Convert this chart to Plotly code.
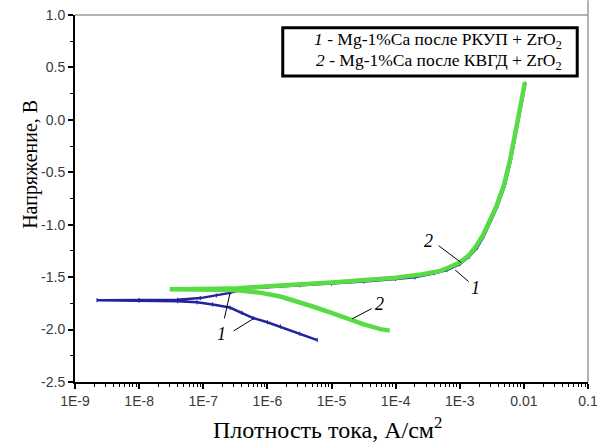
import plotly.graph_objects as go

# Curve 1: Mg-1%Ca после РКУП + ZrO2 (blue)
i1 = [6.0e-6, 3.2e-6, 1.6e-6, 1.0e-6, 6.0e-7, 4.0e-7, 2.6e-7, 1.4e-7, 8.0e-8, 4.0e-8, 1.0e-8, 2.2e-9,
      1.0e-8, 4.0e-8, 9.0e-8, 1.6e-7, 2.6e-7, 4.8e-7, 1.0e-6, 3.2e-6, 1.0e-5, 3.2e-5, 1.0e-4, 2.0e-4,
      4.0e-4, 6.3e-4, 1.0e-3, 1.4e-3, 1.86e-3, 2.35e-3, 3.0e-3, 3.8e-3, 5.0e-3, 6.2e-3, 7.8e-3, 9.3e-3, 1.05e-2]
e1 = [-2.10, -2.04, -1.97, -1.93, -1.89, -1.84, -1.79, -1.76, -1.74, -1.73, -1.725, -1.72,
      -1.718, -1.715, -1.70, -1.675, -1.65, -1.607, -1.595, -1.577, -1.562, -1.542, -1.517, -1.502,
      -1.462, -1.432, -1.377, -1.305, -1.22, -1.115, -0.975, -0.835, -0.635, -0.395, -0.075, 0.185, 0.345]

# Curve 2: Mg-1%Ca после КВГД + ZrO2 (green)
i2 = [8.1e-5, 5.8e-5, 3.2e-5, 1.95e-5, 1.0e-5, 5.1e-6, 2.8e-6, 1.6e-6, 8.0e-7, 3.4e-7, 1.6e-7, 6.3e-8, 3.0e-8,
      6.3e-8, 1.6e-7, 3.4e-7, 5.0e-7, 1.6e-6, 1.0e-5, 3.2e-5, 1.0e-4, 2.5e-4, 5.0e-4, 6.3e-4,
      1.0e-3, 1.4e-3, 1.8e-3, 2.3e-3, 2.95e-3, 3.75e-3, 4.9e-3, 6.1e-3, 7.7e-3, 9.2e-3, 1.04e-2]
e2 = [-2.01, -1.996, -1.95, -1.90, -1.84, -1.78, -1.73, -1.685, -1.65, -1.625, -1.62, -1.617, -1.615,
      -1.612, -1.61, -1.605, -1.60, -1.58, -1.55, -1.53, -1.505, -1.475, -1.44, -1.415,
      -1.36, -1.29, -1.205, -1.10, -0.96, -0.82, -0.62, -0.38, -0.06, 0.20, 0.36]

x_tickvals = [1e-9, 1e-8, 1e-7, 1e-6, 1e-5, 1e-4, 1e-3, 1e-2, 1e-1]
x_ticktext = ["1E-9", "1E-8", "1E-7", "1E-6", "1E-5", "1E-4", "1E-3", "0.01", "0.1"]
y_tickvals = [1.0, 0.5, 0.0, -0.5, -1.0, -1.5, -2.0, -2.5]
y_ticktext = ["1.0", "0.5", "0.0", "-0.5", "-1.0", "-1.5", "-2.0", "-2.5"]

x_minor = [k * d for d in [1e-9, 1e-8, 1e-7, 1e-6, 1e-5, 1e-4, 1e-3, 1e-2] for k in range(2, 10)]

fig = go.Figure()
fig.add_trace(go.Scatter(x=i1, y=e1, mode="lines+markers", line=dict(color="#23239c", width=2.5),
                         marker=dict(symbol="line-ns", size=3, line=dict(width=1, color="#23239c")),
                         showlegend=False))
fig.add_trace(go.Scatter(x=i2, y=e2, mode="lines", line=dict(color="#58dc45", width=4.5),
                         showlegend=False))

tickfont = dict(family="Liberation Sans", size=14, color="#3a3a3a")
fig.update_xaxes(type="log", range=[-9, -1], tickvals=x_tickvals, ticktext=x_ticktext, automargin=False,
                 ticklabeloverflow="allow",
                 showline=True, linecolor="black", linewidth=2, ticks="outside", ticklen=5,
                 tickwidth=1.5, tickcolor="black", showgrid=False, zeroline=False, tickfont=tickfont,
                 minor=dict(tickvals=x_minor, ticks="outside", ticklen=3, tickcolor="black", tickwidth=1))
fig.update_yaxes(range=[-2.5, 1.0], tickvals=y_tickvals, ticktext=y_ticktext, automargin=False,
                 showline=True, linecolor="black", linewidth=2, ticks="outside", ticklen=5,
                 tickwidth=1.5, tickcolor="black", showgrid=False, zeroline=False, tickfont=tickfont,
                 minor=dict(dtick=0.25, ticks="outside", ticklen=3, tickcolor="black", tickwidth=1))

serif = "Liberation Serif"
shapes = [
    dict(type="line", xref="paper", yref="paper", x0=0, x1=1, y0=1, y1=1,
         line=dict(color="#9a9a9a", width=1.5)),
    dict(type="line", xref="paper", yref="paper", x0=1, x1=1, y0=0, y1=1.04,
         line=dict(color="#9a9a9a", width=1.5)),
    dict(type="rect", xref="paper", yref="paper", x0=0.405, x1=0.979, y0=0.834, y1=0.965,
         line=dict(color="black", width=3), fillcolor="white"),
]

anns = [
    dict(text="<i>1</i> - Mg-1%Ca после РКУП + ZrO<sub>2</sub>", xref="paper", yref="paper",
         x=0.953, y=0.93, xanchor="right", yanchor="middle", showarrow=False,
         font=dict(family=serif, size=17.5, color="black")),
    dict(text="<i>2</i> - Mg-1%Ca после КВГД + ZrO<sub>2</sub>", xref="paper", yref="paper",
         x=0.953, y=0.873, xanchor="right", yanchor="middle", showarrow=False,
         font=dict(family=serif, size=17.5, color="black")),
    dict(text="Напряжение, В", xref="paper", yref="paper", x=-0.088, y=0.594, textangle=-90,
         showarrow=False, xanchor="center", yanchor="middle",
         font=dict(family=serif, size=20, color="black")),
    dict(text="Плотность тока, А/см<sup>2</sup>", xref="paper", yref="paper", x=0.493, y=-0.125,
         showarrow=False, xanchor="center", yanchor="middle",
         font=dict(family=serif, size=24, color="black")),
]

lab_font = dict(family=serif, size=18, color="black")
for txt, lx, ly in [("<i>2</i>", -3.48, -1.155), ("<i>1</i>", -2.762, -1.603),
                    ("<i>2</i>", -4.244, -1.756), ("<i>1</i>", -6.708, -2.042)]:
    anns.append(dict(text=txt, x=lx, y=ly, xref="x", yref="y", showarrow=False, font=lab_font))

leaders = [(-2.978, -1.361, -24, -18), (-3.072, -1.431, 15, 13), (-4.679, -1.898, 21, -11),
           (-6.582, -1.650, -6, 27), (-6.223, -1.898, -21, 13)]
for tx, ty, ax, ay in leaders:
    anns.append(dict(text="", x=tx, y=ty, xref="x", yref="y", ax=ax, ay=ay, showarrow=True,
                     arrowhead=0, arrowwidth=1, arrowcolor="black"))

fig.update_layout(width=597, height=447, margin=dict(l=75, r=9, t=15, b=65),
                  plot_bgcolor="white", paper_bgcolor="white", shapes=shapes, annotations=anns)
fig.write_html("out.html", config={"displayModeBar": False},
               post_script="document.body.style.margin='0';document.body.style.padding='0';")
